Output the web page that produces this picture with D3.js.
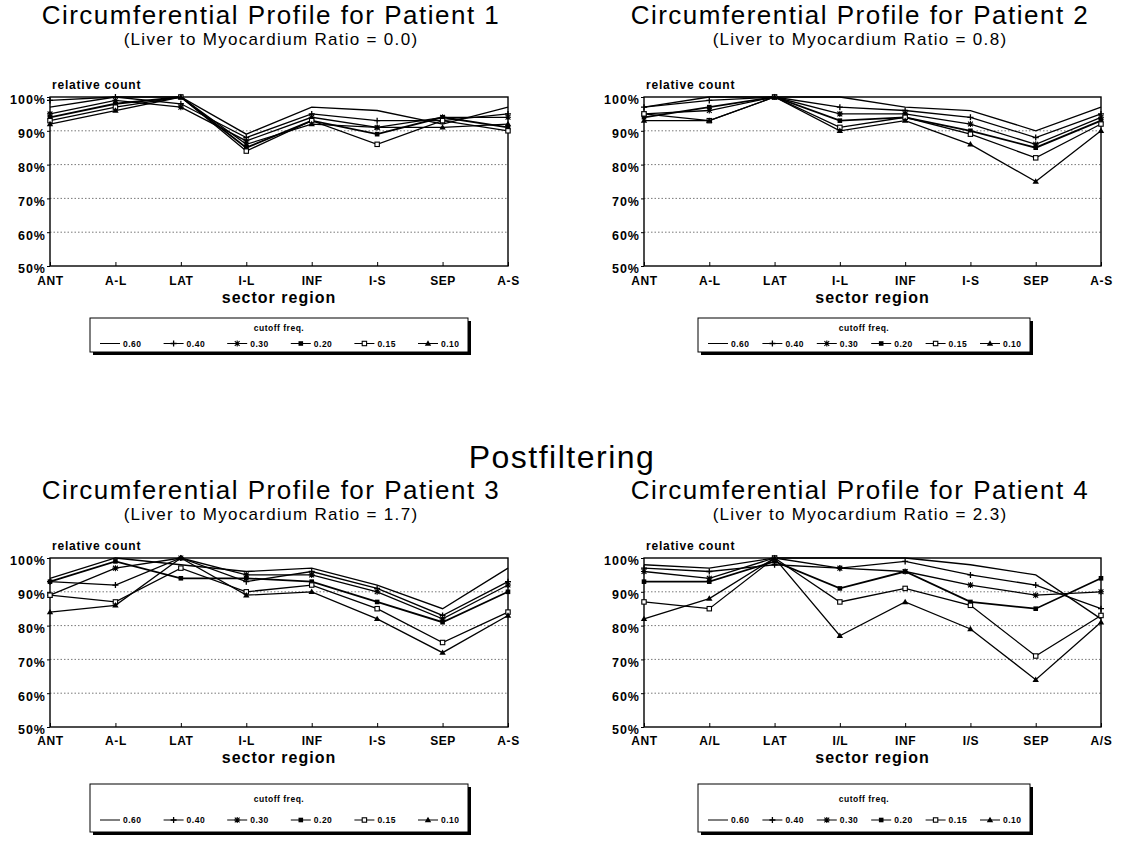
<!DOCTYPE html>
<html><head><meta charset="utf-8">
<script src="https://cdn.jsdelivr.net/npm/d3@7"></script>
<style>body{margin:0;background:#fff}svg{display:block}</style>
</head><body><svg id="c" width="1125" height="842"></svg>
<script>
const regions123 = ["ANT","A-L","LAT","I-L","INF","I-S","SEP","A-S"];
const regions4 = ["ANT","A/L","LAT","I/L","INF","I/S","SEP","A/S"];
const cutoffs = ["0.60","0.40","0.30","0.20","0.15","0.10"];
const yTicks = [50,60,70,80,90,100];
const ratios = ["0.0","0.8","1.7","2.3"];

const patient1 = [
  [97,100,100,89,97,96,92,97],
  [99,100,98,88,95,93,93,95],
  [95,99,97,87,94,91,94,94],
  [94,98,100,85,93,89,94,91],
  [93,97,100,84,93,86,93,90],
  [92,96,100,86,92,91,91,92]
];
const patient2 = [
  [97,100,100,100,97,96,90,97],
  [97,99,100,97,96,94,88,95],
  [95,96,100,95,95,92,86,94],
  [94,97,100,93,94,90,85,93],
  [95,93,100,91,94,89,82,92],
  [93,93,100,90,93,86,75,90]
];
const patient3 = [
  [94,100,98,96,97,92,85,97],
  [93,92,100,93,96,91,83,93],
  [89,97,100,95,95,90,82,92],
  [93,99,94,94,93,87,81,90],
  [89,87,97,90,92,85,75,84],
  [84,86,100,89,90,82,72,83]
];
const patient4 = [
  [98,97,100,100,100,98,95,82],
  [97,96,98,97,99,95,92,85],
  [96,94,100,97,96,92,89,90],
  [93,93,99,91,96,87,85,94],
  [87,85,100,87,91,86,71,83],
  [82,88,100,77,87,79,64,81]
];

const markers = ["none","plus","star","square","opensq","tri"];

const panels = [
  {n:1, cats:regions123, data:patient1, x0:50, x1:508, cx:271, yTop:97, yBot:266, tY:24, sY:45, lx:90, lw:378, ly:318, lh:34, xlY:285, srY:303},
  {n:2, cats:regions123, data:patient2, x0:644, x1:1101, cx:860, yTop:97, yBot:266, tY:24, sY:45, lx:698, lw:332, ly:318, lh:34, xlY:285, srY:303},
  {n:3, cats:regions123, data:patient3, x0:50, x1:508, cx:271, yTop:558, yBot:727, tY:499, sY:520, lx:90, lw:378, ly:784, lh:48, xlY:745, srY:763},
  {n:4, cats:regions4, data:patient4, x0:644, x1:1101, cx:860, yTop:558, yBot:727, tY:499, sY:520, lx:698, lw:332, ly:784, lh:48, xlY:745, srY:763}
];

const svg = d3.select("#c");
const FONT = "'Liberation Sans', Arial, sans-serif";

svg.append("text").attr("x",562).attr("y",468).attr("text-anchor","middle")
  .attr("font-family",FONT).attr("font-size",32).attr("letter-spacing",1.5).text("Postfiltering");

function drawMarker(g, type, x, y){
  const s = 3;
  if(type==="plus"){
    g.append("path").attr("d",`M${x-s},${y}H${x+s}M${x},${y-s}V${y+s}`).attr("stroke","#000").attr("stroke-width",1.3);
  } else if(type==="star"){
    g.append("path").attr("d",`M${x-s},${y}H${x+s}M${x},${y-s}V${y+s}M${x-s*0.8},${y-s*0.8}L${x+s*0.8},${y+s*0.8}M${x-s*0.8},${y+s*0.8}L${x+s*0.8},${y-s*0.8}`).attr("stroke","#000").attr("stroke-width",1.1);
  } else if(type==="square"){
    g.append("rect").attr("x",x-2.3).attr("y",y-2.3).attr("width",4.6).attr("height",4.6).attr("fill","#000");
  } else if(type==="opensq"){
    g.append("rect").attr("x",x-2.2).attr("y",y-2.2).attr("width",4.4).attr("height",4.4).attr("fill","#fff").attr("stroke","#000").attr("stroke-width",1.1);
  } else if(type==="tri"){
    g.append("path").attr("d",`M${x},${y-3.2}L${x+3.2},${y+2.2}L${x-3.2},${y+2.2}Z`).attr("fill","#000");
  }
}

panels.forEach(p=>{
  const g = svg.append("g");
  const x = d3.scalePoint().domain(p.cats).range([p.x0,p.x1]).padding(0);
  const y = d3.scaleLinear().domain([50,100]).range([p.yBot,p.yTop]);

  g.append("text").attr("x",p.cx).attr("y",p.tY).attr("text-anchor","middle")
    .attr("font-family",FONT).attr("font-size",26).attr("letter-spacing",1.5).text(`Circumferential Profile for Patient ${p.n}`);
  g.append("text").attr("x",p.cx).attr("y",p.sY).attr("text-anchor","middle")
    .attr("font-family",FONT).attr("font-size",17).attr("letter-spacing",1.3).text(`(Liver to Myocardium Ratio = ${ratios[p.n-1]})`);

  g.append("text").attr("x",p.x0+2).attr("y",p.yTop-8).attr("font-family",FONT)
    .attr("font-weight","bold").attr("font-size",12).attr("letter-spacing",0.8).text("relative count");

  // gridlines
  g.selectAll(".grid").data(yTicks.filter(v=>v>50 && v<100)).join("line")
    .attr("x1",p.x0).attr("x2",p.x1).attr("y1",d=>y(d)).attr("y2",d=>y(d))
    .attr("stroke","#555").attr("stroke-width",0.8).attr("stroke-dasharray","1.5,2");

  // frame
  g.append("rect").attr("x",p.x0).attr("y",p.yTop).attr("width",p.x1-p.x0).attr("height",p.yBot-p.yTop)
    .attr("fill","none").attr("stroke","#000").attr("stroke-width",1.4);

  // y axis
  const ya = d3.axisLeft(y).tickValues(yTicks).tickSize(3).tickFormat(d=>d+"%");
  const yg = g.append("g").attr("transform",`translate(${p.x0},0)`).call(ya);
  yg.select(".domain").remove();
  yg.selectAll("text").attr("font-family",FONT).attr("font-weight","bold").attr("font-size",12.5)
    .attr("letter-spacing",1).attr("dy","0.55em").attr("x",-4);

  // x axis
  const xa = d3.axisBottom(x).tickSize(-4).tickPadding(3);
  const xg = g.append("g").attr("transform",`translate(0,${p.yBot})`).call(xa);
  xg.select(".domain").remove();
  xg.selectAll("text").attr("font-family",FONT).attr("font-weight","bold").attr("font-size",12)
    .attr("letter-spacing",0.6)
    .attr("y",null).attr("dy",null).attr("transform",`translate(0,${p.xlY-p.yBot})`);

  g.append("text").attr("x",(p.x0+p.x1)/2).attr("y",p.srY).attr("text-anchor","middle")
    .attr("font-family",FONT).attr("font-weight","bold").attr("font-size",16).attr("letter-spacing",1).text("sector region");

  // series
  const line = d3.line().x((d,i)=>x(p.cats[i])).y(d=>y(d));
  p.data.forEach((s,si)=>{
    g.append("path").attr("d",line(s)).attr("fill","none").attr("stroke","#000").attr("stroke-width",si===3?1.8:1.3);
    s.forEach((v,i)=>drawMarker(g,markers[si],x(p.cats[i]),y(v)));
  });

  // legend
  g.append("rect").attr("x",p.lx+3).attr("y",p.ly+3).attr("width",p.lw).attr("height",p.lh).attr("fill","#000");
  g.append("rect").attr("x",p.lx).attr("y",p.ly).attr("width",p.lw).attr("height",p.lh)
    .attr("fill","#fff").attr("stroke","#000").attr("stroke-width",1);
  const titleY = p.ly + p.lh*0.38;
  g.append("text").attr("x",p.lx+p.lw/2).attr("y",titleY).attr("text-anchor","middle")
    .attr("font-family",FONT).attr("font-weight","bold").attr("font-size",8.5).attr("letter-spacing",0.5).text("cutoff freq.");
  const entryY = p.ly + p.lh*0.75;
  const lxs = d3.scalePoint().domain(cutoffs).range([p.lx+10, p.lx+p.lw-50]).padding(0);
  cutoffs.forEach((c,ci)=>{
    const ex = lxs(c);
    g.append("line").attr("x1",ex).attr("x2",ex+20).attr("y1",entryY).attr("y2",entryY).attr("stroke","#000").attr("stroke-width",1);
    drawMarker(g,markers[ci],ex+10,entryY);
    g.append("text").attr("x",ex+23).attr("y",entryY+3).attr("font-family",FONT).attr("font-weight","bold")
      .attr("font-size",8.5).attr("letter-spacing",0.5).text(c);
  });
});
</script></body></html>
